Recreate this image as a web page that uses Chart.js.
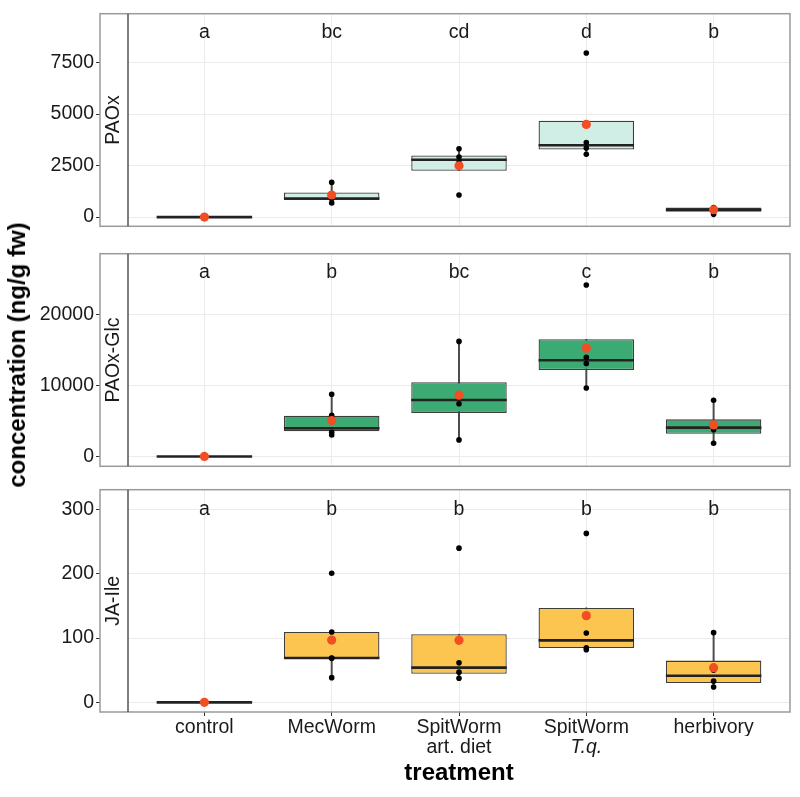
<!DOCTYPE html>
<html>
<head>
<meta charset="utf-8">
<script src="https://cdn.jsdelivr.net/npm/chart.js@4.4.1/dist/chart.umd.min.js"></script>
<style>
  html, body { margin: 0; padding: 0; background: #ffffff; }
  #wrap { position: relative; width: 800px; height: 797px; overflow: hidden; }
  canvas { position: absolute; left: 0; }
  #ytitle {
    position: absolute; left: 17px; top: 355px;
    transform: translate(-50%, -50%) rotate(-90deg);
    font: bold 24px 'Liberation Sans', Arial, sans-serif; color: #000;
    white-space: nowrap;
  }
</style>
</head>
<body>
<div id="wrap">
  <canvas id="c1" width="800" height="240" style="top:0px"></canvas>
  <canvas id="c2" width="800" height="240" style="top:240px"></canvas>
  <canvas id="c3" width="800" height="321" style="top:476px"></canvas>
  <div id="ytitle">concentration (ng/g fw)</div>
</div>
<script>
// ---------- categories / tick labels ----------
const treatmentLine1 = ['control', 'MecWorm', 'SpitWorm', 'SpitWorm', 'herbivory'];
const treatmentLine2 = ['', '', 'art. diet', 'T.q.', ''];
const italicLine2 = [false, false, false, true, false];

// ---------- PAOx ----------
const paoxQ1      = [0, 835, 2247, 3274, 260];
const paoxMedian  = [0, 906, 2783, 3482, 360];
const paoxQ3      = [0, 1192, 2991, 4673, 460];
const paoxLow     = [0, 683, 2247, 3051, 134];
const paoxHigh    = [0, 1683, 3318, 4673, 480];
const paoxMean    = [0, 1071, 2485, 4494, 357];
const paoxPoints  = [[0, 0, 0, 0], [683, 886, 1032, 1683], [1071, 2639, 2912, 3318], [3051, 3348, 3616, 7961], [134, 294, 420, 460]];
const paoxLetters = ['a', 'bc', 'cd', 'd', 'b'];
const paoxTicks   = [0, 2500, 5000, 7500];

// ---------- PAOx-Glc ----------
const glcQ1      = [0, 3545, 6143, 12208, 3195];
const glcMedian  = [0, 3974, 7961, 13584, 4065];
const glcQ3      = [0, 5753, 10468, 16532, 5234];
const glcLow     = [0, 3030, 2338, 9649, 1857];
const glcHigh    = [0, 8779, 16234, 16532, 7922];
const glcMean    = [0, 5065, 8649, 15273, 4455];
const glcPoints  = [[0, 0, 0, 0], [3030, 3400, 5790, 8779], [2338, 7441, 8481, 16234], [9649, 13117, 13974, 24195], [1857, 3766, 4364, 7922]];
const glcLetters = ['a', 'b', 'bc', 'c', 'b'];
const glcTicks   = [0, 10000, 20000];

// ---------- JA-Ile ----------
const jaQ1      = [0, 68.5, 44.5, 84.5, 30];
const jaMedian  = [0, 69, 54, 96.5, 41.5];
const jaQ3      = [0, 109.5, 106, 147, 65];
const jaLow     = [0, 38.5, 37.5, 82, 24];
const jaHigh    = [0, 109.5, 106, 147, 108.5];
const jaMean    = [0, 97, 96.5, 135, 54];
const jaPoints  = [[0, 0, 0, 0], [38.5, 68.5, 69, 109.5, 201], [37.5, 47, 61.5, 240], [82, 85, 108, 263], [24, 33, 50, 108.5]];
const jaLetters = ['a', 'b', 'b', 'b', 'b'];
const jaTicks   = [0, 100, 200, 300];

// ---------- styling ----------
const FONT = "'Liberation Sans', Arial, Helvetica, sans-serif";
Chart.defaults.font.family = FONT;
Chart.defaults.color = '#1a1a1a';
const GRID = '#ebebeb';
const BOX_BORDER = '#3d3d3d';
const MEAN_COLOR = '#f24e23';

const framePlugin = {
  id: 'frame',
  afterDatasetsDraw(chart) {
    const o = chart.options.plugins.frame;
    const ctx = chart.ctx, xs = chart.scales.x, ys = chart.scales.y;
    ctx.save();
    ctx.fillStyle = '#1a1a1a';
    ctx.font = '19.5px ' + FONT;
    ctx.textAlign = 'center';
    ctx.textBaseline = 'middle';
    o.letters.forEach((t, i) => {
      ctx.fillText(t, xs.getPixelForValue(i + 1), ys.getPixelForValue(o.letterY));
    });
    ctx.restore();
  },
  afterDraw(chart) {
    const ctx = chart.ctx, a = chart.chartArea, ys = chart.scales.y;
    ctx.save();
    ctx.strokeStyle = '#9a9a9a';
    ctx.lineWidth = 1.5;
    ctx.strokeRect(ys.right, a.top, a.right - ys.right, a.bottom - a.top);
    ctx.strokeStyle = '#555555';
    ctx.beginPath();
    ctx.moveTo(a.left, a.top); ctx.lineTo(a.left, a.bottom);
    ctx.stroke();
    ctx.restore();
  }
};

function makePanel(id, p) {
  const n = treatmentLine1.length;
  const idx = [...Array(n).keys()];
  const pts = [];
  p.points.forEach((arr, i) => arr.forEach(v => pts.push({x: i + 1, y: v})));
  const halfBox = (ctx) => {
    const s = ctx.chart.scales.x;
    return Math.abs(s.getPixelForValue(1.375) - s.getPixelForValue(1));
  };
  const xScale = {
    type: 'linear', min: 0.4, max: 5.6, offset: false, position: 'bottom', weight: 0,
    afterBuildTicks: (s) => { s.ticks = idx.map(i => ({value: i + 1})); },
    grid: { offset: false, color: GRID, lineWidth: 1, drawTicks: p.bottom, tickLength: 4, tickColor: '#333333' },
    border: { display: false },
    ticks: {
      display: p.bottom, autoSkip: false, maxRotation: 0, padding: 0,
      font: { size: 19.5, family: FONT }, color: '#1a1a1a',
      callback: (v) => treatmentLine1[Math.round(v) - 1]
    },
    afterFit: (s) => { s.height = p.bottom ? 24 : 0; }
  };
  const scales = {
    y: {
      type: 'linear', position: 'left', weight: 10, min: p.min, max: p.max,
      afterBuildTicks: (s) => { s.ticks = p.ticks.map(v => ({value: v})); },
      grid: { color: GRID, lineWidth: 1, drawTicks: true, tickLength: 4, tickColor: '#333333' },
      border: { display: false },
      ticks: { padding: 2, font: { size: 19.5, family: FONT }, color: '#1a1a1a', callback: (v) => String(v) },
      afterFit: (s) => { s.width = 100; }
    },
    strip: {
      type: 'linear', axis: 'y', position: 'left', weight: 0,
      grid: { display: false }, border: { display: false },
      ticks: { display: false },
      title: { display: true, text: p.strip, font: { size: 19.5, family: FONT }, color: '#1a1a1a', padding: { top: 2.3, bottom: 0 } },
      afterFit: (s) => { s.width = 28; }
    },
    x: xScale
  };
  if (p.bottom) {
    scales.x2 = {
      type: 'linear', min: 0.4, max: 5.6, offset: false, position: 'bottom', weight: 10,
      afterBuildTicks: (s) => { s.ticks = idx.map(i => ({value: i + 1})); },
      grid: { display: false, drawTicks: false, offset: false }, border: { display: false },
      ticks: {
        autoSkip: false, maxRotation: 0, padding: 0, color: '#1a1a1a',
        font: (c) => ({ size: 19.5, family: FONT, style: italicLine2[c.index] ? 'italic' : 'normal' }),
        callback: (v) => treatmentLine2[Math.round(v) - 1]
      },
      title: { display: true, text: 'treatment', color: '#000', font: { size: 24, weight: 'bold', family: FONT }, padding: { top: 0, bottom: 9 } },
      afterFit: (s) => { s.height = 61; }
    };
  }
  return new Chart(document.getElementById(id), {
    type: 'bar',
    data: {
      datasets: [
        { type: 'bar', label: 'whisker', order: 5, grouped: false, yAxisID: 'y', xAxisID: 'x',
          data: idx.map(i => ({x: i + 1, y: [p.low[i], p.high[i]]})),
          backgroundColor: '#4a4a4a', barThickness: 1.3, borderWidth: 0 },
        { type: 'bar', label: 'box', order: 4, grouped: false, yAxisID: 'y', xAxisID: 'x',
          data: idx.map(i => ({x: i + 1, y: [p.q1[i], p.q3[i]]})),
          backgroundColor: p.fill, borderColor: BOX_BORDER, borderWidth: 1.3, borderSkipped: false,
          categoryPercentage: 1, barPercentage: 0.75 },
        { type: 'scatter', label: 'median', order: 3, yAxisID: 'y', xAxisID: 'x',
          data: idx.map(i => ({x: i + 1, y: p.median[i]})),
          pointStyle: 'line', pointRadius: halfBox, borderColor: '#222222', borderWidth: 2.6 },
        { type: 'scatter', label: 'points', order: 2, yAxisID: 'y', xAxisID: 'x',
          data: pts, pointRadius: 2.8, backgroundColor: '#000000', borderWidth: 0 },
        { type: 'scatter', label: 'mean', order: 1, yAxisID: 'y', xAxisID: 'x',
          data: idx.map(i => ({x: i + 1, y: p.mean[i]})),
          pointRadius: 4.6, backgroundColor: MEAN_COLOR, borderWidth: 0 }
      ]
    },
    options: {
      responsive: false, animation: false, events: [],
      layout: { padding: p.padding },
      plugins: { legend: { display: false }, tooltip: { enabled: false },
        frame: { letters: p.letters, letterY: p.letterY } },
      scales
    },
    plugins: [framePlugin]
  });
}

makePanel('c1', { strip: 'PAOx', min: -446, max: 9866, ticks: paoxTicks, letterY: 8970,
  q1: paoxQ1, median: paoxMedian, q3: paoxQ3, low: paoxLow, high: paoxHigh, mean: paoxMean,
  points: paoxPoints, letters: paoxLetters, fill: '#d0ede6', bottom: false,
  padding: { top: 5, bottom: 4, left: 0, right: 10 } });
makePanel('c2', { strip: 'PAOx-Glc', min: -1390, max: 28610, ticks: glcTicks, letterY: 26000,
  q1: glcQ1, median: glcMedian, q3: glcQ3, low: glcLow, high: glcHigh, mean: glcMean,
  points: glcPoints, letters: glcLetters, fill: '#3caa73', bottom: false,
  padding: { top: 3, bottom: 6, left: 0, right: 10 } });
makePanel('c3', { strip: 'JA-Ile', min: -15, max: 331, ticks: jaTicks, letterY: 300,
  q1: jaQ1, median: jaMedian, q3: jaQ3, low: jaLow, high: jaHigh, mean: jaMean,
  points: jaPoints, letters: jaLetters, fill: '#fcc54f', bottom: true,
  padding: { top: 5, bottom: 0, left: 0, right: 10 } });
</script>
</body>
</html>
